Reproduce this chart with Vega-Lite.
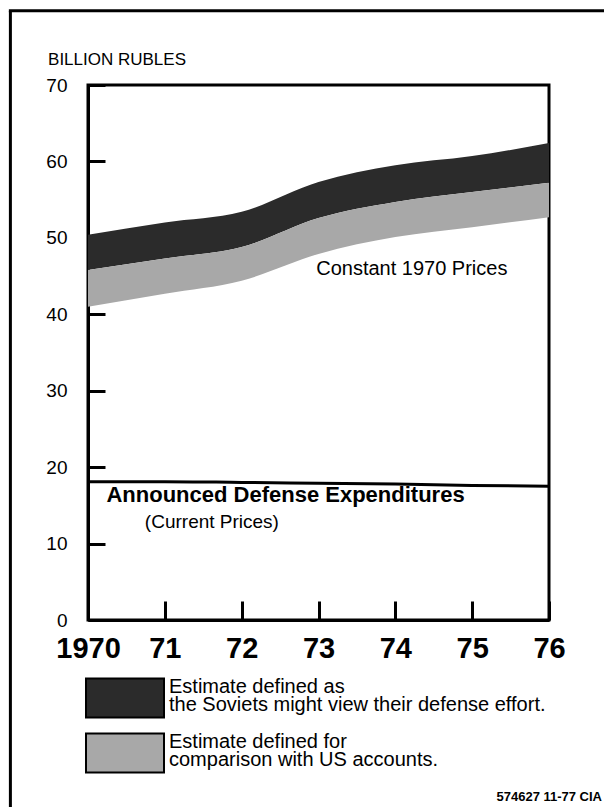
{
  "$schema": "https://vega.github.io/schema/vega-lite/v6.json",
  "width": 461,
  "height": 535,
  "autosize": "none",
  "padding": {"left": 88, "top": 85, "right": 55, "bottom": 187},
  "background": "white",
  "datasets": {
    "soviet": [
      {"year": 1970, "series": "Soviet view", "upper": 50.4, "lower": 45.8},
      {"year": 1971, "series": "Soviet view", "upper": 52.0, "lower": 47.3},
      {"year": 1972, "series": "Soviet view", "upper": 53.4, "lower": 48.8},
      {"year": 1973, "series": "Soviet view", "upper": 57.3, "lower": 52.6},
      {"year": 1974, "series": "Soviet view", "upper": 59.5, "lower": 54.7},
      {"year": 1975, "series": "Soviet view", "upper": 60.7, "lower": 56.0},
      {"year": 1976, "series": "Soviet view", "upper": 62.4, "lower": 57.2}
    ],
    "us": [
      {"year": 1970, "series": "US accounts", "upper": 45.8, "lower": 41.0},
      {"year": 1971, "series": "US accounts", "upper": 47.3, "lower": 42.7},
      {"year": 1972, "series": "US accounts", "upper": 48.8, "lower": 44.4},
      {"year": 1973, "series": "US accounts", "upper": 52.6, "lower": 47.9},
      {"year": 1974, "series": "US accounts", "upper": 54.7, "lower": 50.1},
      {"year": 1975, "series": "US accounts", "upper": 56.0, "lower": 51.4},
      {"year": 1976, "series": "US accounts", "upper": 57.2, "lower": 52.7}
    ],
    "announced": [
      {"year": 1970, "value": 18.1},
      {"year": 1971, "value": 18.1},
      {"year": 1972, "value": 18.0},
      {"year": 1973, "value": 17.9},
      {"year": 1974, "value": 17.8},
      {"year": 1975, "value": 17.6},
      {"year": 1976, "value": 17.5}
    ]
  },
  "layer": [
    {
      "data": {"name": "soviet"},
      "mark": {"type": "area", "interpolate": "monotone"},
      "encoding": {
        "x": {
          "field": "year", "type": "quantitative", "title": null,
          "scale": {"domain": [1970, 1976], "nice": false, "zero": false},
          "axis": {
            "title": null, "values": [1970, 1971, 1972, 1973, 1974, 1975, 1976],
            "format": "d",
            "labelExpr": "datum.value == 1970 ? '1970' : substring(datum.label, 2)",
            "labelFont": "Liberation Sans", "labelFontSize": 29, "labelFontWeight": "bold",
            "labelColor": "black", "labelFlush": false, "labelOverlap": false,
            "tickSize": -19, "tickWidth": 3, "tickColor": "black",
            "domainWidth": 3, "domainColor": "black", "grid": false, "labelPadding": 33
          }
        },
        "y": {
          "field": "upper", "type": "quantitative", "title": null,
          "scale": {"domain": [0, 70], "nice": false},
          "axis": {
            "title": null,
            "values": [0, 10, 20, 30, 40, 50, 60, 70],
            "labelFont": "Liberation Sans", "labelFontSize": 19, "labelColor": "black",
            "tickSize": -17, "tickWidth": 3, "tickColor": "black",
            "domainWidth": 3, "domainColor": "black", "grid": false, "labelPadding": 38
          }
        },
        "y2": {"field": "lower"},
        "fill": {
          "field": "series", "type": "nominal",
          "scale": {"domain": ["Soviet view"], "range": ["#2b2b2b"]},
          "legend": {
            "orient": "none", "legendX": -3, "legendY": 573, "title": null,
            "symbolType": "M-1,-0.5H1V0.5H-1Z", "symbolSize": 6084,
            "symbolStrokeColor": "black", "symbolStrokeWidth": 2, "symbolOpacity": 1,
            "labelFont": "Liberation Sans", "labelFontSize": 20, "labelColor": "black",
            "labelOffset": 4, "labelLimit": 0,
            "labelExpr": "['Estimate defined as', 'the Soviets might view their defense effort.']",
            "encode": {
              "labels": {"update": {"lineHeight": {"value": 18}, "dy": {"value": -11}}}
            }
          }
        }
      }
    },
    {
      "data": {"name": "us"},
      "mark": {"type": "area", "interpolate": "monotone"},
      "encoding": {
        "x": {"field": "year", "type": "quantitative"},
        "y": {"field": "upper", "type": "quantitative"},
        "y2": {"field": "lower"},
        "color": {
          "field": "series", "type": "nominal",
          "scale": {"domain": ["US accounts"], "range": ["#a8a8a8"]},
          "legend": {
            "orient": "none", "legendX": -3, "legendY": 628, "title": null,
            "symbolType": "M-1,-0.5H1V0.5H-1Z", "symbolSize": 6084,
            "symbolStrokeColor": "black", "symbolStrokeWidth": 2, "symbolOpacity": 1,
            "labelFont": "Liberation Sans", "labelFontSize": 20, "labelColor": "black",
            "labelOffset": 4, "labelLimit": 0,
            "labelExpr": "['Estimate defined for', 'comparison with US accounts.']",
            "encode": {
              "labels": {"update": {"lineHeight": {"value": 18}, "dy": {"value": -11}}}
            }
          }
        }
      }
    },
    {
      "data": {"name": "announced"},
      "mark": {"type": "line", "color": "black", "strokeWidth": 3, "interpolate": "monotone"},
      "encoding": {
        "x": {"field": "year", "type": "quantitative"},
        "y": {"field": "value", "type": "quantitative"}
      }
    },
    {
      "data": {"values": [{}]},
      "mark": {"type": "text", "align": "left", "baseline": "middle", "font": "Liberation Sans", "fontSize": 17, "color": "black"},
      "encoding": {
        "x": {"datum": 1969.48, "type": "quantitative"},
        "y": {"datum": 73.27, "type": "quantitative"},
        "text": {"value": "BILLION RUBLES"}
      }
    },
    {
      "data": {"values": [{}]},
      "mark": {"type": "text", "align": "left", "baseline": "middle", "font": "Liberation Sans", "fontSize": 20, "color": "black"},
      "encoding": {
        "x": {"datum": 1972.97, "type": "quantitative"},
        "y": {"datum": 45.9, "type": "quantitative"},
        "text": {"value": "Constant 1970 Prices"}
      }
    },
    {
      "data": {"values": [{}]},
      "mark": {"type": "text", "align": "left", "baseline": "middle", "font": "Liberation Sans", "fontSize": 22, "fontWeight": "bold", "color": "black"},
      "encoding": {
        "x": {"datum": 1970.24, "type": "quantitative"},
        "y": {"datum": 16.35, "type": "quantitative"},
        "text": {"value": "Announced Defense Expenditures"}
      }
    },
    {
      "data": {"values": [{}]},
      "mark": {"type": "text", "align": "left", "baseline": "middle", "font": "Liberation Sans", "fontSize": 19, "color": "black"},
      "encoding": {
        "x": {"datum": 1970.74, "type": "quantitative"},
        "y": {"datum": 12.86, "type": "quantitative"},
        "text": {"value": "(Current Prices)"}
      }
    },
    {
      "data": {"values": [{}]},
      "mark": {"type": "text", "align": "right", "baseline": "middle", "font": "Liberation Sans", "fontSize": 13, "fontWeight": "bold", "color": "black"},
      "encoding": {
        "x": {"datum": 1976.69, "type": "quantitative"},
        "y": {"datum": -23.16, "type": "quantitative"},
        "text": {"value": "574627 11-77 CIA"}
      }
    },
    {
      "data": {"values": [{}]},
      "mark": {"type": "rule", "color": "black", "strokeWidth": 3},
      "encoding": {
        "x": {"datum": 1968.99, "type": "quantitative"},
        "y": {"datum": 79.7, "type": "quantitative"},
        "y2": {"datum": -25}
      }
    },
    {
      "data": {"values": [{}]},
      "mark": {"type": "rule", "color": "black", "strokeWidth": 3},
      "encoding": {
        "x": {"datum": 1968.97, "type": "quantitative"},
        "x2": {"datum": 1976.8},
        "y": {"datum": 79.7, "type": "quantitative"}
      }
    }
  ],
  "config": {"view": {"stroke": "black", "strokeWidth": 3}}
}
